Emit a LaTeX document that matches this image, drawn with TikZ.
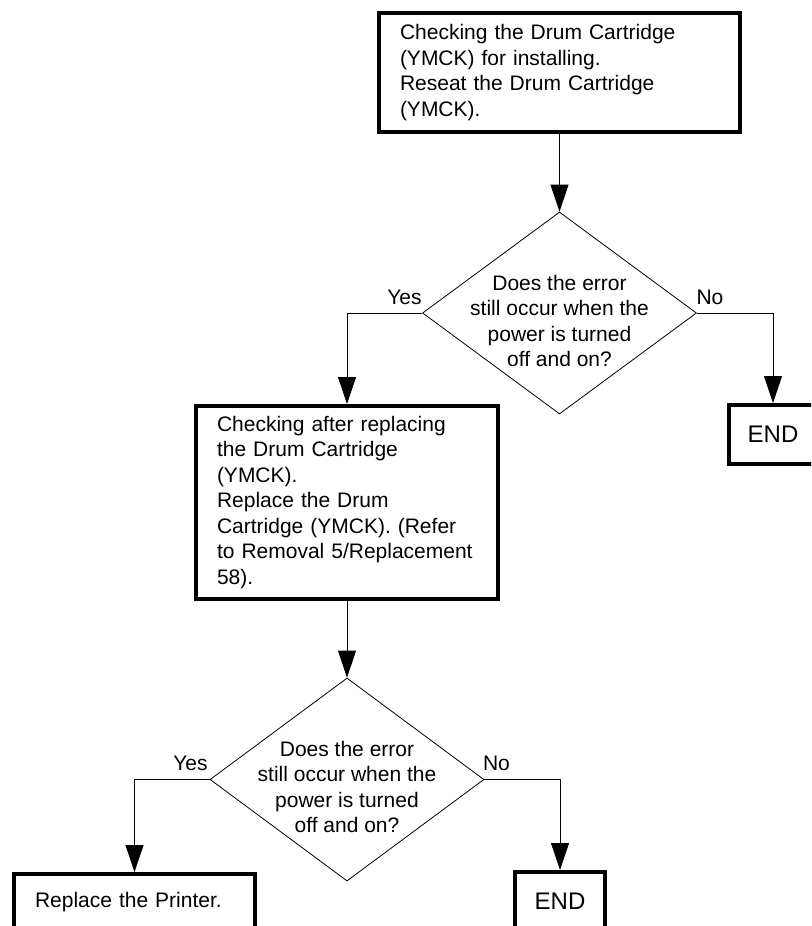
\documentclass[tikz,border=0pt]{standalone}
\usepackage{fontspec}
\setmainfont{Liberation Sans}
\usetikzlibrary{arrows.meta,shapes.geometric}
\begin{document}
\begin{tikzpicture}[x=1pt,y=-1pt,
  box/.style={draw,line width=4pt,rectangle,inner ysep=0pt,inner xsep=21pt,outer sep=2pt,align=left,font=\fontsize{21}{25.5}\selectfont},
  endbox/.style={draw,line width=4pt,rectangle,inner sep=0pt,outer sep=2pt,font=\fontsize{24}{28}\selectfont},
  dec/.style={draw,line width=0.8pt,diamond,inner sep=0pt,minimum width=274pt,minimum height=202pt},
  dtext/.style={align=center,inner sep=0pt,font=\fontsize{21}{25.5}\selectfont},
  lbl/.style={inner sep=0pt,font=\fontsize{21}{25.5}\selectfont},
  arr/.style={line width=0.8pt,-{Triangle[length=27pt,width=18pt]}},
]
\useasboundingbox (0,0) rectangle (811,926);
\clip (0,0) rectangle (811,926);

\node[box, minimum width=361pt, minimum height=119pt, text width=319pt] (b1) at (559.5,72.5)
  {Checking the Drum Cartridge\\(YMCK) for installing.\\Reseat the Drum Cartridge\\(YMCK).};

\node[dec] (d1) at (559.5,313) {};
\node[dtext] (t1) at (559.5,321) {Does the error\\still occur when the\\power is turned\\off and on?};
\node[lbl] (y1) at (404.5,297) {Yes};
\node[lbl] (n1) at (710,297) {No};

\node[box, minimum width=302pt, minimum height=193pt, text width=260pt] (b2) at (347,502.5)
  {Checking after replacing\\the Drum Cartridge\\(YMCK).\\Replace the Drum\\Cartridge (YMCK). (Refer\\to Removal 5/Replacement\\58).};

\node[endbox, minimum width=88pt, minimum height=59pt] (e1) at (773,434.5) {END};

\node[dec, minimum height=203pt] (d2) at (347,779.5) {};
\node[dtext] (t2) at (347,787) {Does the error\\still occur when the\\power is turned\\off and on?};
\node[lbl] (y2) at (190.5,763) {Yes};
\node[lbl] (n2) at (496.5,763) {No};

\node[box, minimum width=241pt, minimum height=56pt, text width=199pt] (b3) at (134.5,902)
  {Replace the Printer.};
\node[endbox, minimum width=90pt, minimum height=59pt] (e2) at (560,901.5) {END};

\draw[arr] (b1.south) -- (d1.north);
\draw[arr] (d1.west) -| (b2.north);
\draw[arr] (d1.east) -| (e1.north);
\draw[arr] (b2.south) -- (d2.north);
\draw[arr] (d2.west) -| (b3.north);
\draw[arr] (d2.east) -| (e2.north);
\end{tikzpicture}
\end{document}
